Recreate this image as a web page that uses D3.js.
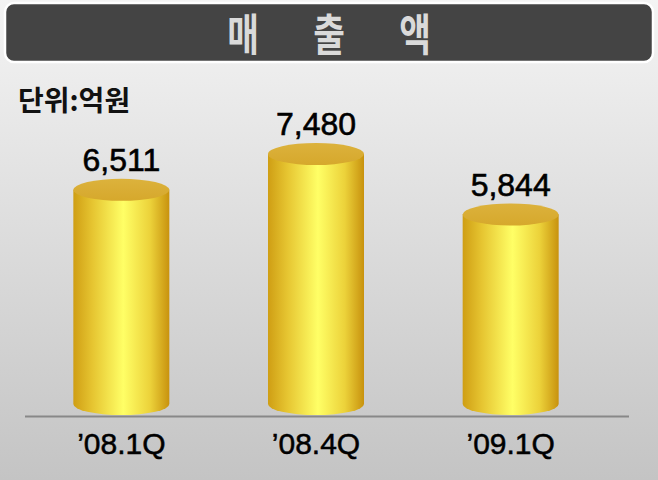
<!DOCTYPE html>
<html>
<head>
<meta charset="utf-8">
<script src="https://cdn.jsdelivr.net/npm/d3@7"></script>
<style>
  html, body { margin: 0; padding: 0; background: #fff; }
  svg { display: block; }
</style>
</head>
<body>
<div id="chart"></div>
<script>
(function () {

  // ── Data ───────────────────────────────────────────────────────────────
  var QUARTERS = ["\u201908.1Q", "\u201908.4Q", "\u201909.1Q"];
  var SALES    = [6511, 7480, 5844];
  var TITLE    = ["매", "출", "액"];
  var UNIT     = "단위:억원";

  var W = 658, H = 480;
  var FLOOR = 404;       // centre of the bottom ellipse of each cylinder
  var RX = 48, RY = 11;

  var svg = d3.select("#chart").append("svg")
    .attr("width", W)
    .attr("height", H);

  var defs = svg.append("defs");

  // ── Gradients ──────────────────────────────────────────────────────────
  var bg = defs.append("linearGradient").attr("id", "bg")
    .attr("x1", 0).attr("y1", 0).attr("x2", 0).attr("y2", 1);
  bg.append("stop").attr("offset", "0%").attr("stop-color", "#f4f4f4");
  bg.append("stop").attr("offset", "100%").attr("stop-color", "#c4c4c4");

  var side = defs.append("linearGradient").attr("id", "side")
    .attr("x1", 0).attr("y1", 0).attr("x2", 1).attr("y2", 0);
  [["0%", "#cf9e14"], ["20%", "#e6c531"], ["52%", "#ffff66"],
   ["80%", "#ecd23a"], ["100%", "#c8920e"]].forEach(function (s) {
    side.append("stop").attr("offset", s[0]).attr("stop-color", s[1]);
  });

  var top = defs.append("linearGradient").attr("id", "top")
    .attr("x1", 0).attr("y1", 0).attr("x2", 0).attr("y2", 1);
  top.append("stop").attr("offset", "0%").attr("stop-color", "#dcb23c");
  top.append("stop").attr("offset", "100%").attr("stop-color", "#d6a82c");

  svg.append("rect")
    .attr("width", W).attr("height", H)
    .attr("fill", "url(#bg)");

  // ── Title bar ──────────────────────────────────────────────────────────
  svg.append("rect")
    .attr("x", 5).attr("y", 3)
    .attr("width", W - 10).attr("height", 59)
    .attr("rx", 9)
    .attr("fill", "#444")
    .attr("stroke", "#fff")
    .attr("stroke-width", 2.5);

  var titleX = d3.scalePoint().domain(TITLE).range([243, 415]);
  svg.append("g").selectAll("text")
    .data(TITLE)
    .join("text")
    .attr("transform", function (d) { return "translate(" + titleX(d) + ",51) scale(0.82,1.05)"; })
    .attr("text-anchor", "middle")
    .attr("font-family", "'Noto Sans CJK KR', sans-serif")
    .attr("font-weight", "700")
    .attr("font-size", "42px")
    .attr("fill", "#dadada")
    .text(function (d) { return d; });

  // ── Unit label ─────────────────────────────────────────────────────────
  svg.append("text")
    .attr("x", 18).attr("y", 111)
    .attr("font-family", "'Noto Sans CJK KR', sans-serif")
    .attr("font-weight", "700")
    .attr("font-size", "28px")
    .attr("fill", "#111")
    .text(UNIT);

  // ── Scales ─────────────────────────────────────────────────────────────
  var x = d3.scalePoint().domain(QUARTERS).range([24, 608]).padding(0.5);
  var y = d3.scaleLinear().domain([0, 8000]).range([430.6, 134.8]);

  // ── Baseline ───────────────────────────────────────────────────────────
  svg.append("line")
    .attr("x1", 25).attr("x2", 629)
    .attr("y1", 416.5).attr("y2", 416.5)
    .attr("stroke", "#888")
    .attr("stroke-width", 2);

  // ── Cylinders ──────────────────────────────────────────────────────────
  var bars = svg.append("g").selectAll("g")
    .data(SALES)
    .join("g")
    .attr("transform", function (d, i) { return "translate(" + x(QUARTERS[i]) + ",0)"; });

  bars.append("path")
    .attr("fill", "url(#side)")
    .attr("d", function (d) {
      var t = y(d);
      return "M" + (-RX) + "," + t +
        "L" + (-RX) + "," + FLOOR +
        "A" + RX + "," + RY + " 0 0 0 " + RX + "," + FLOOR +
        "L" + RX + "," + t + "Z";
    });

  bars.append("ellipse")
    .attr("cx", 0)
    .attr("cy", function (d) { return y(d); })
    .attr("rx", RX).attr("ry", RY)
    .attr("fill", "url(#top)");

  bars.append("text")
    .attr("x", 0)
    .attr("y", function (d) { return y(d) - 19; })
    .attr("text-anchor", "middle")
    .attr("font-family", "'Liberation Sans', Arial, sans-serif")
    .attr("font-size", "32px")
    .attr("fill", "#000")
    .attr("stroke", "#000")
    .attr("stroke-width", 0.6)
    .text(function (d) { return d3.format(",")(d); });

  // ── Category labels ────────────────────────────────────────────────────
  svg.append("g").selectAll("text")
    .data(QUARTERS)
    .join("text")
    .attr("x", function (d) { return x(d); })
    .attr("y", 454)
    .attr("text-anchor", "middle")
    .attr("font-family", "'Liberation Sans', Arial, sans-serif")
    .attr("font-size", "30px")
    .attr("fill", "#000")
    .attr("stroke", "#000")
    .attr("stroke-width", 0.5)
    .text(function (d) { return d; });

})();
</script>
</body>
</html>
